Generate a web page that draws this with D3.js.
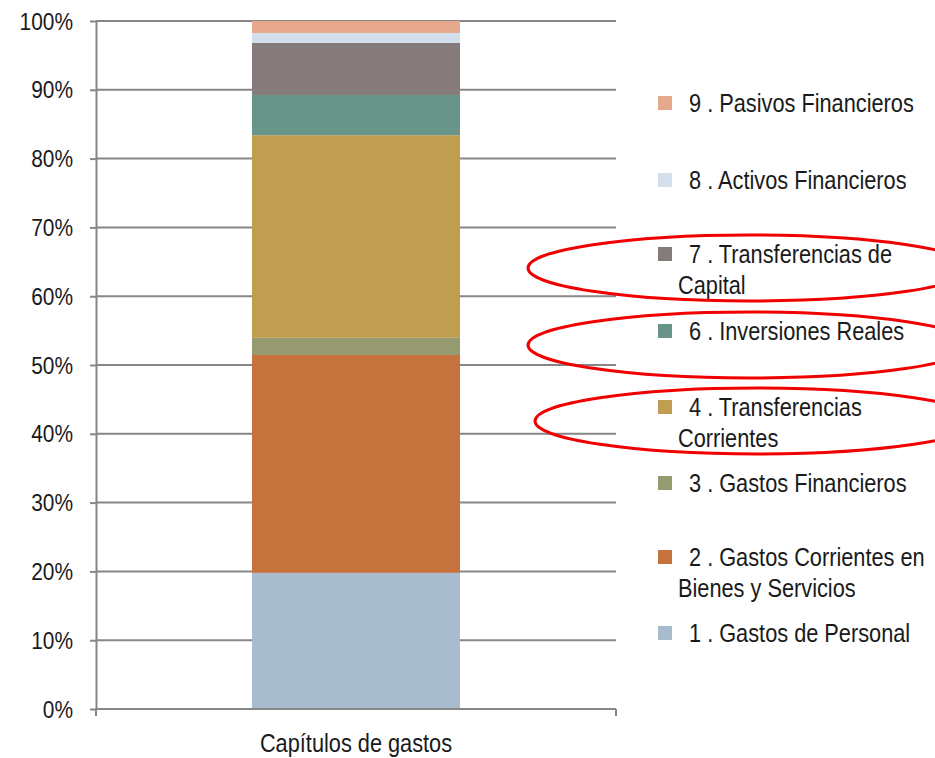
<!DOCTYPE html>
<html>
<head>
<meta charset="utf-8">
<script src="https://cdn.jsdelivr.net/npm/d3@7"></script>
<style>
  body { margin: 0; background: #fff; }
  text { font-family: "Liberation Sans", Arial, sans-serif; fill: #1a1a1a; }
</style>
</head>
<body>
<svg id="vis"></svg>
<script>
const WIDTH = 935;
const HEIGHT = 758;

// chapters, bottom of the stack first
const capitulos = ["1", "2", "3", "4", "6", "7", "8", "9"];
const nombres = [
  ["1 . Gastos de Personal"],
  ["2 . Gastos Corrientes en", "Bienes y Servicios"],
  ["3 . Gastos Financieros"],
  ["4 . Transferencias", "Corrientes"],
  ["6 . Inversiones Reales"],
  ["7 . Transferencias de", "Capital"],
  ["8 . Activos Financieros"],
  ["9 . Pasivos Financieros"]
];
const valores = [19.8, 31.65, 2.5, 29.45, 5.85, 7.56, 1.45, 1.74];
const colores = ["#A9BCCD", "#C6723D", "#959A70", "#BF9E52", "#69948A", "#857B7A", "#D3DFEB", "#E6A98E"];
const yTicks = [0, 10, 20, 30, 40, 50, 60, 70, 80, 90, 100];
const categoria = "Capítulos de gastos";
// legend rows (y of first line), bottom to top = 1 .. 9
const legendY = [633, 557, 483, 407, 331, 254, 180, 103];
// chapters circled in red in the original
const marcados = ["7", "6", "4"];

const margin = { top: 21, left: 96, right: 319, bottom: 49 };
const NARROW = 0.87; // fake a condensed face

const SVG = d3.select("#vis").attr("width", WIDTH).attr("height", HEIGHT);

// text helper: narrow text anchored at (x, y)
function ntext(parent, x, y, str, size, anchor) {
  parent.append("g")
    .attr("transform", `translate(${x},${y}) scale(${NARROW},1)`)
    .append("text")
    .attr("text-anchor", anchor || "start")
    .attr("dy", "0.36em")
    .style("font-size", size + "px")
    .text(str);
}

const x = d3.scaleBand().domain([categoria]).range([margin.left, WIDTH - margin.right]).paddingInner(0.6).paddingOuter(0.3);
const y = d3.scaleLinear().domain([0, 100]).range([HEIGHT - margin.bottom, margin.top]);

// gridlines
SVG.append("g").selectAll("line")
  .data(yTicks.filter(d => d > 0))
  .enter().append("line")
  .attr("x1", margin.left).attr("x2", WIDTH - margin.right)
  .attr("y1", d => y(d)).attr("y2", d => y(d))
  .attr("stroke", "#868686").attr("stroke-width", 2);

// stacked segments
let acc = 0;
const segs = valores.map((v, i) => { const s = { y0: acc, y1: acc + v, c: colores[i] }; acc += v; return s; });

SVG.append("g").selectAll("rect")
  .data(segs)
  .enter().append("rect")
  .attr("x", x(categoria))
  .attr("width", x.bandwidth())
  .attr("y", d => y(d.y1))
  .attr("height", d => y(d.y0) - y(d.y1))
  .attr("fill", d => d.c);

// y axis
const yAxis = SVG.append("g").attr("transform", `translate(${margin.left},0)`)
  .call(d3.axisLeft(y).tickValues(yTicks).tickFormat("").tickSize(6).tickSizeOuter(0));
yAxis.select(".domain").attr("stroke", "#868686").attr("stroke-width", 2);
yAxis.selectAll(".tick line").attr("stroke", "#868686").attr("stroke-width", 2);
const yLab = SVG.append("g");
yTicks.forEach(t => ntext(yLab, 73, y(t), t + "%", 24, "end"));

// x axis
const x0 = y(0);
SVG.append("line").attr("x1", margin.left).attr("x2", WIDTH - margin.right)
  .attr("y1", x0).attr("y2", x0).attr("stroke", "#868686").attr("stroke-width", 2);
SVG.selectAll(".xtick").data([margin.left, WIDTH - margin.right]).enter()
  .append("line").attr("class", "xtick")
  .attr("x1", d => d).attr("x2", d => d).attr("y1", x0).attr("y2", x0 + 7)
  .attr("stroke", "#868686").attr("stroke-width", 2);
ntext(SVG, (margin.left + WIDTH - margin.right) / 2, 743, categoria, 25, "middle");

// legend
const leg = SVG.append("g").selectAll("g")
  .data(capitulos.map((c, i) => ({ c, lines: nombres[i], color: colores[i], y: legendY[i] })))
  .enter().append("g");
leg.append("rect")
  .attr("x", 658).attr("y", d => d.y - 7)
  .attr("width", 14).attr("height", 14)
  .attr("fill", d => d.color);
leg.each(function (d) {
  const g = d3.select(this);
  d.lines.forEach((ln, j) => ntext(g, j === 0 ? 689 : 678, d.y + j * 31, ln, 25));
});

// red annotation ellipses
SVG.append("g").selectAll("ellipse")
  .data(marcados.map(c => legendY[capitulos.indexOf(c)]))
  .enter().append("ellipse")
  .attr("cx", (d, i) => i === 2 ? 757 : 750)
  .attr("cy", d => d + 14)
  .attr("rx", 222).attr("ry", 33)
  .attr("fill", "none")
  .attr("stroke", "#F00000")
  .attr("stroke-width", 3);
</script>
</body>
</html>
